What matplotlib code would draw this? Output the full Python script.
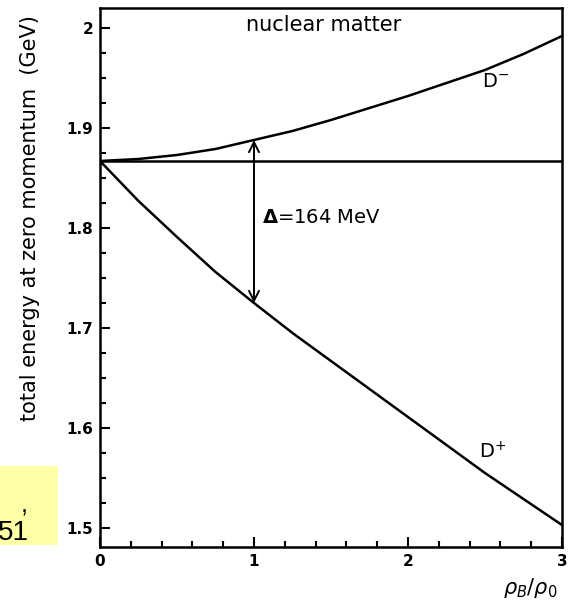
"""D-meson energies in nuclear matter versus baryon density."""

import matplotlib.pyplot as plt
from matplotlib.patches import Rectangle
from matplotlib.ticker import MultipleLocator

# density rho_B/rho_0
rho = [0, 0.25, 0.5, 0.75, 1.0, 1.25, 1.5, 1.75, 2.0, 2.25, 2.5, 2.75, 3.0]
# total energy at zero momentum (GeV)
e_dminus = [1.867, 1.869, 1.873, 1.879, 1.888, 1.897, 1.908, 1.920, 1.932,
            1.945, 1.958, 1.974, 1.992]
e_dplus = [1.867, 1.827, 1.791, 1.756, 1.725, 1.695, 1.667, 1.639, 1.611,
           1.583, 1.555, 1.529, 1.503]
m_free = 1.867
arrow_rho = 1.0
arrow_lo, arrow_hi = 1.725, 1.888
x_ticks = [0, 1, 2, 3]
y_ticks = [1.5, 1.6, 1.7, 1.8, 1.9, 2.0]
y_ticklabels = ['1.5', '1.6', '1.7', '1.8', '1.9', '2']

fig = plt.figure(figsize=(5.73, 6.0), dpi=100)
ax = fig.add_axes([0.1745, 0.0883, 0.8063, 0.8984])

ax.plot(rho, e_dminus, color='black', lw=1.8)
ax.plot(rho, e_dplus, color='black', lw=1.8)
ax.axhline(m_free, color='black', lw=1.8)

# double arrow for the splitting
ax.annotate('', xy=(arrow_rho, arrow_hi), xytext=(arrow_rho, arrow_lo),
            arrowprops=dict(arrowstyle='<->', color='black', lw=1.4,
                            mutation_scale=18, shrinkA=0, shrinkB=0))

ax.set_xlim(0, 3)
ax.set_ylim(1.481, 2.02)
ax.set_xticks(x_ticks)
ax.set_yticks(y_ticks)
ax.set_yticklabels(y_ticklabels)
ax.xaxis.set_minor_locator(MultipleLocator(0.2))
ax.yaxis.set_minor_locator(MultipleLocator(0.025))
ax.tick_params(which='both', direction='in', width=1.5, top=False, right=False,
               labelsize=11)
ax.tick_params(which='major', length=7, pad=5)
ax.tick_params(which='minor', length=4)
for lab in ax.get_xticklabels() + ax.get_yticklabels():
    lab.set_fontweight('bold')
for s in ax.spines.values():
    s.set_linewidth(1.8)

ax.text(1.455, 2.003, 'nuclear matter', ha='center', va='center', fontsize=15)
ax.text(1.05, 1.81, r'$\mathbf{\Delta}$=164 MeV', ha='left', va='center',
        fontsize=14)
ax.text(2.57, 1.946, r'D$^{-}$', ha='center', va='center', fontsize=14)
ax.text(2.55, 1.576, r'D$^{+}$', ha='center', va='center', fontsize=14)

ax.set_ylabel('total energy at zero momentum  (GeV)', fontsize=15)
ax.yaxis.set_label_coords(-0.13, 0.61)
fig.text(530 / 573, 1 - 588 / 600, r'$\rho_{B}/\rho_{0}$', ha='center',
         va='center', fontsize=15)

# pale yellow note box cut at the left edge
fig.patches.append(Rectangle((0, 1 - 545 / 600), 58 / 573, 79 / 600,
                             transform=fig.transFigure, facecolor='#ffffa8',
                             edgecolor='none', zorder=-1))
fig.text(24 / 573, 1 - 505 / 600, ',', ha='center', va='center', fontsize=18,
         family='Liberation Sans')
fig.text(29 / 573, 1 - 533 / 600, '51', ha='right', va='center', fontsize=20,
         family='Liberation Sans')

fig.savefig('out.png', dpi=100)
